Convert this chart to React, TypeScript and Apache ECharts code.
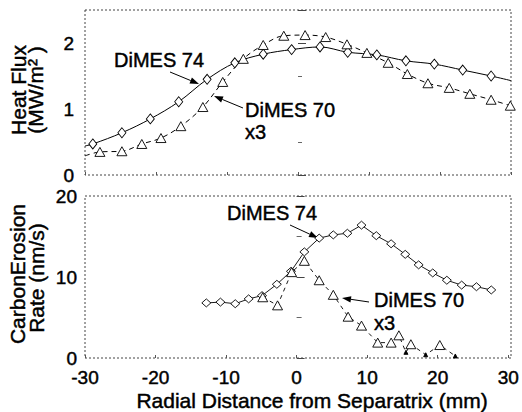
import React, { useEffect, useRef } from "react";
import * as echarts from "echarts";

// ---- Data ----
// Top panel: heat flux (MW/m^2)
const hf74X = [-28.9, -24.8, -20.8, -16.8, -12.8, -8.9, -4.9, -0.9, 3.1, 7.0, 11.1, 15.2, 19.2, 23.2, 27.2];
const hf74Y = [0.47, 0.64, 0.85, 1.11, 1.45, 1.70, 1.83, 1.90, 1.94, 1.86, 1.82, 1.73, 1.68, 1.59, 1.50];
const hf74Ends = [0.44, 1.43]; // curve values at x = -30 and x = 30 (no marker)

const hf70X = [-27.9, -24.8, -22.0, -19.3, -16.5, -13.4, -10.6, -7.7, -4.9, -2.0, 1.0, 3.9, 6.9, 9.7, 12.7, 15.4, 18.3, 21.3, 24.2, 27.2, 29.9];
const hf70Y = [0.35, 0.36, 0.47, 0.56, 0.74, 1.03, 1.41, 1.76, 1.97, 2.11, 2.12, 2.09, 1.98, 1.85, 1.70, 1.53, 1.39, 1.32, 1.23, 1.14, 1.05];
const hf70Start = 0.29; // curve value at x = -30 (no marker)

// Bottom panel: carbon erosion rate (nm/s)
const er74X = [-12.8, -10.8, -8.7, -6.8, -4.9, -2.8, -0.8, 1.1, 3.2, 5.2, 7.2, 9.2, 11.3, 13.4, 15.4, 17.3, 19.3, 21.3, 23.4, 25.5, 27.6];
const er74Y = [6.8, 6.9, 6.7, 7.3, 7.7, 9.1, 10.7, 13.1, 14.8, 15.2, 15.4, 16.4, 15.1, 14.1, 12.8, 11.5, 10.5, 9.6, 9.0, 8.8, 8.4];

const er70X = [-4.8, -2.7, -0.7, 1.1, 3.2, 5.2, 7.3, 9.2, 11.5, 13.4, 14.5, 15.5, 16.2, 18.3, 20.3, 22.5];
const er70Y = [7.5, 6.5, 10.6, 12.0, 9.6, 7.8, 5.1, 4.0, 1.9, 1.9, 2.8, 0.7, 1.7, 0.4, 1.6, 0.25];

const xTicks = { min: -30, max: 30, interval: 10 };
const hfTicks = { min: 0, max: 2.5, interval: 1 };
const erTicks = { min: 0, max: 20, interval: 10 };

// ---- Layout ----
const W = 522;
const H = 412;
const GL = 85;
const GW = 426;
const G1T = 10;
const G1H = 165;
const G2T = 196;
const G2H = 162;
const FONT = '"Liberation Sans", Arial, Helvetica, sans-serif';
const THICK = 0.45;

function arrow(x1: number, y1: number, x2: number, y2: number) {
  const dx = x2 - x1;
  const dy = y2 - y1;
  const len = Math.sqrt(dx * dx + dy * dy);
  const ux = dx / len;
  const uy = dy / len;
  const hl = 9;
  const hw = 3.2;
  const bx = x2 - ux * hl;
  const by = y2 - uy * hl;
  return [
    {
      type: "line",
      shape: { x1, y1, x2: bx, y2: by },
      style: { stroke: "#000", lineWidth: 1 },
      silent: true,
    },
    {
      type: "polygon",
      shape: {
        points: [
          [x2, y2],
          [bx - uy * hw, by + ux * hw],
          [bx + uy * hw, by - ux * hw],
        ],
      },
      style: { fill: "#000" },
      silent: true,
    },
  ];
}

function txt(text: string, x: number, y: number, opts: any = {}) {
  return {
    type: "text",
    x,
    y,
    rotation: opts.rotation || 0,
    silent: true,
    style: {
      text,
      font: `${opts.size || 20}px ${FONT}`,
      fill: "#000",
      stroke: "#000",
      lineWidth: THICK,
      textAlign: opts.align || "left",
      align: opts.align || "left",
      textVerticalAlign: "middle",
      verticalAlign: "middle",
    },
  };
}

function frame(top: number, height: number) {
  return {
    type: "rect",
    shape: { x: GL, y: top, width: GW, height },
    style: { fill: "none", stroke: "#444", lineWidth: 1, lineDash: [2, 2] },
    silent: true,
    z: 0,
  };
}

export default function App() {
  const ref = useRef<HTMLDivElement>(null);

  useEffect(() => {
    if (!ref.current) return;
    const chart = echarts.init(ref.current, undefined, { renderer: "svg" });

    const hf74Data: any[] = [{ value: [-30, hf74Ends[0]], symbol: "none" }];
    hf74X.forEach((x, i) => hf74Data.push([x, hf74Y[i]]));
    hf74Data.push({ value: [30, hf74Ends[1]], symbol: "none" });

    const hf70Data: any[] = [{ value: [-30, hf70Start], symbol: "none" }];
    hf70X.forEach((x, i) => hf70Data.push([x, hf70Y[i]]));

    const er74Data = er74X.map((x, i) => [x, er74Y[i]]);
    const er70Data = er70X.map((x, i) =>
      er70Y[i] < 0.8
        ? { value: [x, er70Y[i]], symbolSize: 4, itemStyle: { color: "#000" } }
        : [x, er70Y[i]]
    );

    const axisTextStyle = {
      color: "#000",
      fontSize: 19,
      fontFamily: FONT,
      textBorderColor: "#000",
      textBorderWidth: THICK,
    };

    const option: any = {
      animation: false,
      backgroundColor: "#fff",
      grid: [
        { left: GL, top: G1T, width: GW, height: G1H, show: false },
        { left: GL, top: G2T, width: GW, height: G2H, show: false },
      ],
      xAxis: [
        {
          gridIndex: 0,
          type: "value",
          ...xTicks,
          axisLine: { show: false },
          axisTick: { show: true, inside: true, length: 3, lineStyle: { color: "#555" } },
          axisLabel: { show: false },
          splitLine: { show: false },
        },
        {
          gridIndex: 1,
          type: "value",
          ...xTicks,
          axisLine: { show: false },
          axisTick: { show: true, inside: true, length: 3, lineStyle: { color: "#555" } },
          axisLabel: { show: true, margin: 10, ...axisTextStyle },
          splitLine: { show: false },
        },
      ],
      yAxis: [
        {
          gridIndex: 0,
          type: "value",
          ...hfTicks,
          axisLine: { show: false },
          axisTick: { show: true, inside: true, length: 8, lineStyle: { color: "#444" } },
          minorTick: { show: true, splitNumber: 2, length: 4, lineStyle: { color: "#666" } },
          axisLabel: {
            show: true,
            margin: 11,
            ...axisTextStyle,
            formatter: (v: number) => (Number.isInteger(v) ? String(v) : ""),
          },
          splitLine: { show: false },
        },
        {
          gridIndex: 1,
          type: "value",
          ...erTicks,
          axisLine: { show: false },
          axisTick: { show: true, inside: true, length: 8, lineStyle: { color: "#444" } },
          minorTick: { show: true, splitNumber: 2, length: 5, lineStyle: { color: "#666" } },
          axisLabel: { show: true, margin: 8, ...axisTextStyle },
          splitLine: { show: false },
        },
      ],
      series: [
        {
          type: "line",
          xAxisIndex: 0,
          yAxisIndex: 0,
          data: hf74Data,
          smooth: 0.35,
          symbol: "diamond",
          symbolSize: [8, 10],
          showAllSymbol: true,
          lineStyle: { color: "#000", width: 1 },
          itemStyle: { color: "#fff", borderColor: "#000", borderWidth: 0.9 },
          z: 3,
        },
        {
          type: "line",
          xAxisIndex: 0,
          yAxisIndex: 0,
          data: hf70Data,
          smooth: 0.35,
          symbol: "triangle",
          symbolSize: [10, 9],
          showAllSymbol: true,
          lineStyle: { color: "#000", width: 1, type: [5, 4] },
          itemStyle: { color: "#fff", borderColor: "#000", borderWidth: 0.9 },
          z: 3,
        },
        {
          type: "line",
          xAxisIndex: 1,
          yAxisIndex: 1,
          data: er74Data,
          smooth: false,
          symbol: "diamond",
          symbolSize: [9, 8],
          showAllSymbol: true,
          lineStyle: { color: "#000", width: 0.9 },
          itemStyle: { color: "#fff", borderColor: "#000", borderWidth: 0.9 },
          z: 3,
        },
        {
          type: "line",
          xAxisIndex: 1,
          yAxisIndex: 1,
          data: er70Data,
          smooth: false,
          symbol: "triangle",
          symbolSize: [10, 9],
          showAllSymbol: true,
          lineStyle: { color: "#000", width: 0.9, type: [4, 4] },
          itemStyle: { color: "#fff", borderColor: "#000", borderWidth: 0.9 },
          z: 3,
        },
      ],
      graphic: [
        frame(G1T, G1H),
        frame(G2T, G2H),
        // axis titles
        txt("Heat Flux", 18, 90, { rotation: Math.PI / 2, align: "center", size: 21 }),
        txt("(MW/m² )", 35, 90, { rotation: Math.PI / 2, align: "center", size: 21 }),
        txt("CarbonErosion", 17, 274, { rotation: Math.PI / 2, align: "center", size: 21 }),
        txt("Rate (nm/s)", 36, 278, { rotation: Math.PI / 2, align: "center", size: 21 }),
        txt("Radial Distance from Separatrix (mm)", 312, 400, { align: "center", size: 21 }),
        // annotations
        txt("DiMES 74", 114, 60),
        ...arrow(170, 72, 199, 84),
        txt("DiMES 70", 245, 110),
        txt("x3", 245, 132),
        ...arrow(243, 108, 214, 96),
        txt("DiMES 74", 227, 213),
        ...arrow(290, 225, 318, 238),
        txt("DiMES 70", 374, 300),
        txt("x3", 374, 323),
        ...arrow(369, 302, 342, 298),
      ],
    };

    chart.setOption(option);
    return () => chart.dispose();
  }, []);

  return (
    <div
      ref={ref}
      style={{ position: "absolute", left: 0, top: 0, width: W, height: H, background: "#fff" }}
    />
  );
}
